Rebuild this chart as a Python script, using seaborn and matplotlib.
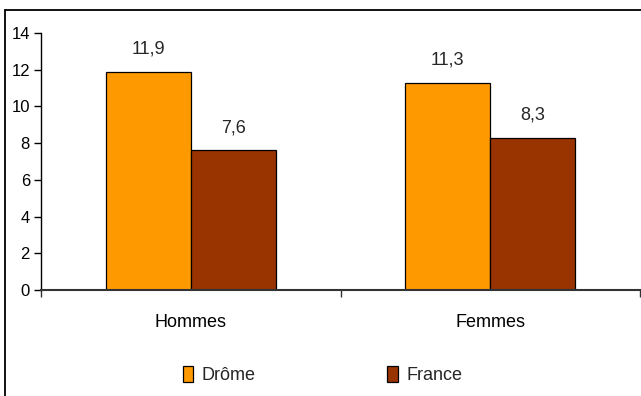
import matplotlib
matplotlib.use("Agg")
import matplotlib.pyplot as plt
import seaborn as sns
import pandas as pd
from matplotlib.lines import Line2D
from matplotlib.ticker import MultipleLocator

categories = ["Hommes", "Femmes"]
series_names = ["Drôme", "France"]
drome = [11.9, 11.3]
france = [7.6, 8.3]
value_labels_drome = ["11,9", "11,3"]
value_labels_france = ["7,6", "8,3"]
colors = ["#FF9900", "#993300"]

df = pd.DataFrame({
    "cat": categories * 2,
    "serie": [series_names[0]] * 2 + [series_names[1]] * 2,
    "val": drome + france,
})

sns.set_theme(style="white")
plt.rcParams["font.family"] = ["Liberation Sans", "DejaVu Sans"]

fig = plt.figure(figsize=(6.41, 3.96), dpi=100)
ax = fig.add_axes([41 / 641, (396 - 290) / 396, 599 / 641, 257 / 396])

sns.barplot(data=df, x="cat", y="val", hue="serie", order=categories,
            hue_order=series_names, palette=colors, width=0.568,
            edgecolor="black", linewidth=0.9, saturation=1, ax=ax,
            legend=False)

ax.set_xlim(-0.5, 1.5)
ax.set_ylim(0, 14)
ax.yaxis.set_major_locator(MultipleLocator(2))
ax.set_xlabel("")
ax.set_ylabel("")

# x ticks: boundaries as major (marks), categories as minor labels
ax.set_xticks([-0.5, 0.5, 1.5])
ax.set_xticklabels([])
ax.set_xticks([0, 1], minor=True)
ax.set_xticklabels(categories, minor=True)
ax.tick_params(axis="x", which="major", direction="out", length=5, width=1,
               color="#333333", bottom=True)
ax.tick_params(axis="x", which="minor", length=0, labelsize=13, pad=17,
               colors="black")
ax.tick_params(axis="y", direction="out", length=5, width=1, left=True,
               labelsize=12, colors="black", pad=3)

for s in ["top", "right"]:
    ax.spines[s].set_visible(False)
ax.spines["left"].set_color("black")
ax.spines["left"].set_linewidth(1)
ax.spines["bottom"].set_color("#333333")
ax.spines["bottom"].set_linewidth(1.5)

# value labels
labels_all = [value_labels_drome, value_labels_france]
for container, labs in zip(ax.containers, labels_all):
    ax.bar_label(container, labels=labs, padding=10, fontsize=13)

# legend
handles = [plt.Rectangle((0, 0), 1, 1, facecolor=c, edgecolor="black",
                         linewidth=0.9) for c in colors]
fig.legend(handles, series_names, loc="center", bbox_to_anchor=(0.503, 0.053),
           ncol=2, frameon=False, fontsize=13, handlelength=0.6,
           handleheight=1.0, handletextpad=0.45, columnspacing=7.3)

# figure border (left and top visible)
fig.add_artist(Line2D([5 / 641, 5 / 641], [0, 1 - 10 / 396],
                      transform=fig.transFigure, color="black", lw=1.3))
fig.add_artist(Line2D([5 / 641, 1], [1 - 10 / 396, 1 - 10 / 396],
                      transform=fig.transFigure, color="black", lw=1.3))

fig.savefig("out.png", dpi=100)
